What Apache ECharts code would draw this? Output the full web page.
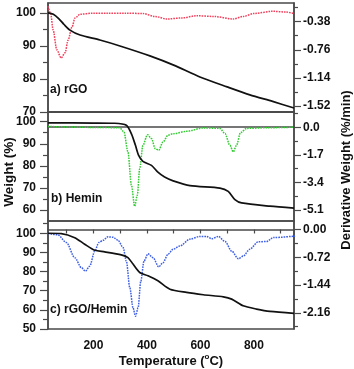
<!DOCTYPE html>
<html>
<head>
<meta charset="utf-8">
<script src="https://cdn.jsdelivr.net/npm/echarts@6/dist/echarts.min.js"></script>
<style>
  html, body { margin: 0; padding: 0; background: #fff; }
  #chart { width: 354px; height: 369px; }
</style>
</head>
<body>
<div id="chart"></div>
<script>
// x axis (temperature)
var tempLabels = [200, 400, 600, 800];
var tempTicks = [100, 200, 300, 400, 500, 600, 700, 800, 900];

// a) rGO
var rgoWeight = [[30,100],[50,99.6],[70,98.3],[90,96.5],[112,94.8],[150,93.3],[224,91.8],[299,90.0],[411,87.0],[500,84.2],[598,80.6],[700,77.6],[785,75.2],[870,73.2],[950,71.2]];
var rgoDeriv = [[30,-0.17],[40,-0.27],[49,-0.49],[63,-0.76],[79,-0.87],[94,-0.80],[105,-0.63],[120,-0.45],[131,-0.33],[150,-0.28],[198,-0.265],[250,-0.265],[320,-0.265],[385,-0.27],[430,-0.31],[475,-0.344],[530,-0.33],[587,-0.30],[650,-0.31],[722,-0.344],[760,-0.31],[800,-0.27],[870,-0.24],[920,-0.25],[950,-0.27]];

// b) Hemin
var heminWeight = [[30,99.5],[200,99.4],[279,99.3],[323,98.4],[342,94.5],[357,89.3],[369,84.7],[385,82],[417,80.2],[441,77.1],[466,74.9],[498,73.2],[561,71],[673,69.9],[704,68.4],[729,64.7],[754,63.2],[860,61.7],[950,60.8]];
var heminDeriv = [[30,0.05],[200,-0.01],[298,-0.03],[314,-0.29],[329,-1.52],[342,-3.57],[354,-4.87],[364,-4.19],[373,-2.55],[385,-1.11],[402,-0.46],[417,-0.70],[431,-1.32],[444,-1.42],[460,-0.91],[479,-0.49],[498,-0.40],[548,-0.25],[611,-0.04],[673,-0.07],[692,-0.39],[710,-1.11],[723,-1.52],[735,-1.11],[750,-0.33],[773,-0.07],[850,-0.03],[950,0.0]];

// c) rGO/Hemin
var mixWeight = [[30,100],[80,99.8],[130,97.7],[167,94.3],[205,91.1],[242,90.3],[304,88.7],[329,87.3],[348,83.9],[373,79.5],[404,77.8],[441,75.2],[486,70.8],[548,69.1],[611,67.9],[686,66.8],[717,65.6],[760,62.1],[810,60.4],[860,59.2],[950,58.2]];
var mixDeriv = [[30,-0.10],[67,-0.14],[99,-0.34],[130,-0.73],[155,-0.99],[170,-1.08],[186,-0.95],[205,-0.56],[220,-0.34],[236,-0.28],[254,-0.19],[273,-0.20],[292,-0.28],[311,-0.47],[323,-0.82],[336,-1.51],[348,-2.03],[357,-2.25],[367,-2.03],[377,-1.34],[389,-0.82],[404,-0.63],[423,-0.73],[444,-0.97],[460,-0.86],[479,-0.64],[498,-0.51],[523,-0.43],[561,-0.25],[598,-0.18],[623,-0.18],[642,-0.24],[667,-0.18],[692,-0.31],[717,-0.56],[742,-0.76],[760,-0.69],[785,-0.51],[816,-0.32],[848,-0.31],[873,-0.21],[954,-0.17]];

// axis ticks
var rgoWLabels = [70, 80, 90, 100], rgoWMinor = [75, 85, 95];
var rgoDLabels = [-0.38, -0.76, -1.14, -1.52], rgoDMinor = [-0.19, -0.57, -0.95, -1.33];
var heminWLabels = [60, 70, 80, 90, 100], heminWMinor = [65, 75, 85, 95];
var heminDLabels = [0, -1.7, -3.4, -5.1], heminDMinor = [0.85, -0.85, -2.55, -4.25];
var mixWLabels = [50, 60, 70, 80, 90, 100], mixWMinor = [55, 65, 75, 85, 95, 105];
var mixDLabels = [0, -0.72, -1.44, -2.16], mixDMinor = [-0.36, -1.08, -1.8, -2.52];

var font = "'Liberation Sans', Arial, sans-serif";
var axisColor = '#4a4a4a';

var chart = echarts.init(document.getElementById('chart'));

function yPair(grid, pos, min, max, labels, minors, fmt) {
  var left = pos === 'left';
  return [{
    type: 'value', gridIndex: grid, position: pos, min: min, max: max,
    axisLine: { show: true, lineStyle: { color: axisColor, width: 1.5 } },
    axisTick: { show: true, length: left ? 8 : 7, customValues: labels, lineStyle: { color: axisColor, width: 1.2 } },
    axisLabel: { customValues: labels, margin: left ? 12 : 9, color: '#111', fontFamily: font, fontWeight: 'bold', fontSize: 12, formatter: fmt },
    splitLine: { show: false }
  }, {
    type: 'value', gridIndex: grid, position: pos, min: min, max: max,
    axisLine: { show: false },
    axisTick: { show: true, length: left ? 5 : 4, customValues: minors, lineStyle: { color: axisColor, width: 1.2 } },
    axisLabel: { show: false },
    splitLine: { show: false }
  }];
}

function xAx(grid, showLabels) {
  return {
    type: 'value', gridIndex: grid, min: 30, max: 950,
    axisLine: { show: true, lineStyle: { color: axisColor, width: 1.5 } },
    axisTick: { show: showLabels, length: 4, customValues: tempTicks, lineStyle: { color: axisColor, width: 1.2 } },
    axisLabel: { show: showLabels, customValues: tempLabels, margin: 11, color: '#111', fontFamily: font, fontWeight: 'bold', fontSize: 12 },
    splitLine: { show: false }
  };
}

var f2 = function (v) { return v.toFixed(2); };
var f1 = function (v) { return v.toFixed(1); };

var yAxes = [].concat(
  yPair(0, 'left', 70, 103, rgoWLabels, rgoWMinor),
  yPair(0, 'right', -1.60, -0.128, rgoDLabels, rgoDMinor, f2),
  yPair(1, 'left', 55, 104.4, heminWLabels, heminWMinor),
  yPair(1, 'right', -5.78, 0.94, heminDLabels, heminDMinor, f1),
  yPair(2, 'left', 50, 106.4, mixWLabels, mixWMinor),
  yPair(2, 'right', -2.58, 0.22, mixDLabels, mixDMinor, f2)
);

function line(data, xi, yi, color, dotted) {
  return {
    type: 'line', data: data, xAxisIndex: xi, yAxisIndex: yi,
    smooth: dotted ? 0.3 : 0.25, smoothMonotone: dotted ? 'x' : null, showSymbol: false, animation: false,
    lineStyle: { color: color, width: dotted ? 1.5 : 1.7, type: dotted ? [1.6, 1] : 'solid' }
  };
}

var gridBase = { left: 48, right: 60, show: true, borderColor: axisColor, borderWidth: 1.5, backgroundColor: 'transparent' };

var option = {
  animation: false,
  grid: [
    Object.assign({ top: 3, height: 109 }, gridBase),
    Object.assign({ top: 112, height: 109 }, gridBase),
    Object.assign({ top: 221, height: 108 }, gridBase)
  ],
  xAxis: [xAx(0, false), xAx(1, false), xAx(2, true)],
  yAxis: yAxes,
  series: [
    line(rgoDeriv, 0, 2, '#f0405c', true),
    line(rgoWeight, 0, 0, '#111', false),
    line(heminDeriv, 1, 6, '#33cc33', true),
    line(heminWeight, 1, 4, '#111', false),
    line(mixDeriv, 2, 10, '#3d5fe6', true),
    line(mixWeight, 2, 8, '#111', false)
  ],
  graphic: [
    { type: 'text', x: 50, y: 90, style: { text: 'a) rGO', font: 'bold 12px ' + font, fill: '#111', textVerticalAlign: 'middle' } },
    { type: 'text', x: 51, y: 199, style: { text: 'b) Hemin', font: 'bold 12px ' + font, fill: '#111', textVerticalAlign: 'middle' } },
    { type: 'text', x: 50, y: 310, style: { text: 'c) rGO/Hemin', font: 'bold 12px ' + font, fill: '#111', textVerticalAlign: 'middle' } },
    { type: 'text', x: 9, y: 172, rotation: Math.PI / 2, style: { text: 'Weight (%)', font: 'bold 13.5px ' + font, fill: '#111', textAlign: 'center', textVerticalAlign: 'middle' } },
    { type: 'text', x: 346, y: 170, rotation: Math.PI / 2, style: { text: 'Derivative Weight (%/min)', font: 'bold 13px ' + font, fill: '#111', textAlign: 'center', textVerticalAlign: 'middle' } },
    { type: 'text', x: 171, y: 361, style: {
      text: '{a|Temperature (}{s|o}{a|C)}', textAlign: 'center', textVerticalAlign: 'middle',
      rich: {
        a: { font: 'bold 13px ' + font, fill: '#111', lineHeight: 16 },
        s: { font: 'bold 8px ' + font, fill: '#111', lineHeight: 16, verticalAlign: 'top' }
      }
    } }
  ]
};

chart.setOption(option);
</script>
</body>
</html>
